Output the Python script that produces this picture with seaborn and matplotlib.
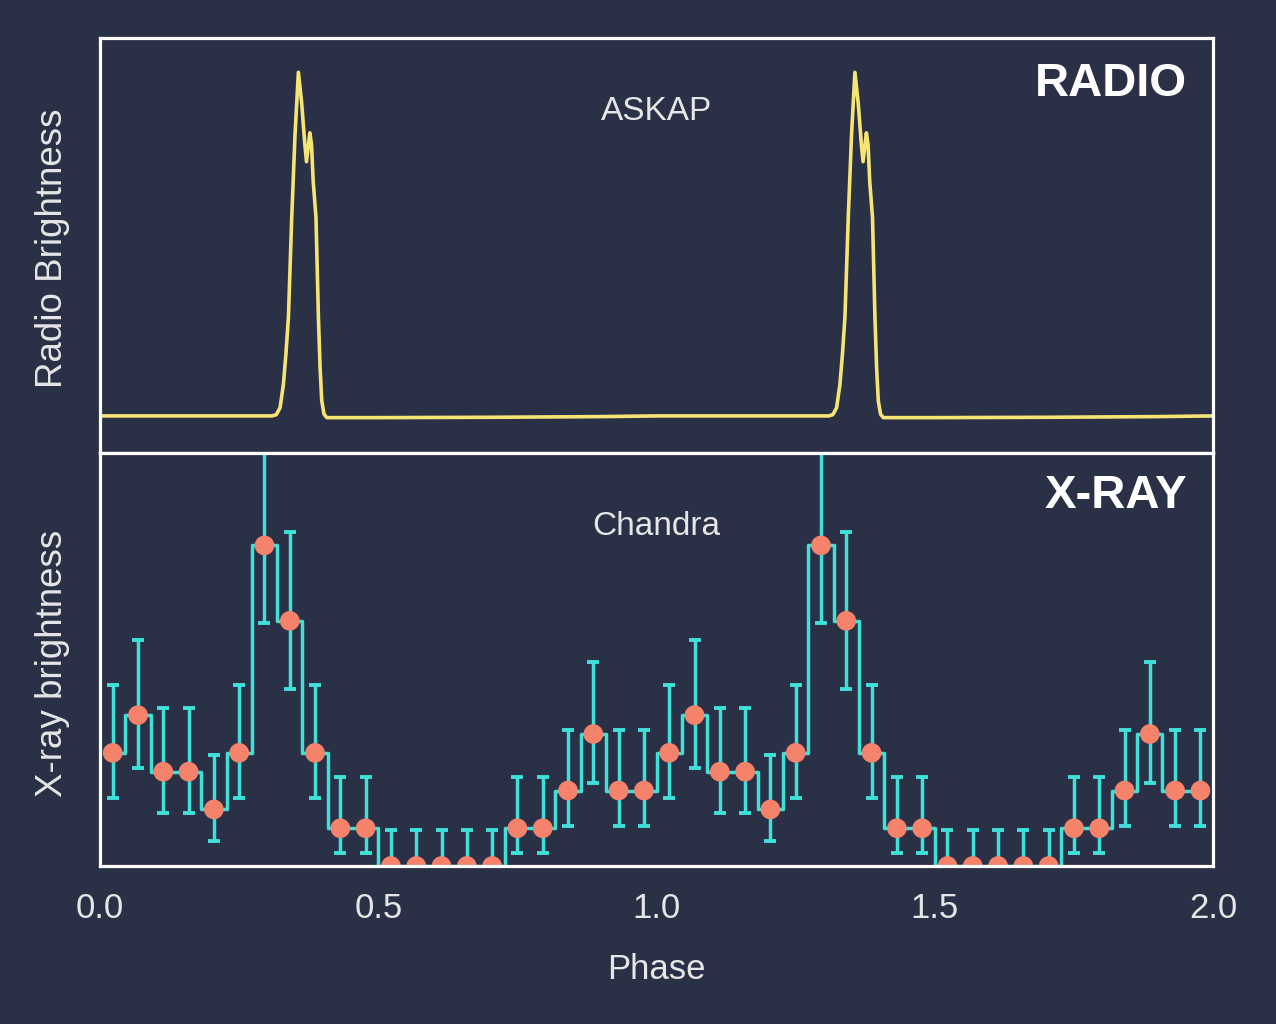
import numpy as np
import pandas as pd
import matplotlib.pyplot as plt
import seaborn as sns

# one pulse cycle of the ASKAP radio profile (phase, relative brightness)
radio_phase = [0.0, 0.10, 0.20, 0.30, 0.309, 0.316, 0.3176, 0.3235, 0.3295, 0.334,
               0.3385, 0.3445, 0.3504, 0.3564, 0.3624, 0.368, 0.371, 0.377, 0.380,
               0.383, 0.388, 0.3924, 0.3954, 0.3984, 0.4025, 0.4074, 0.50, 0.70, 0.90]
radio_flux = [0.0, 0.0, 0.0, 0.0, 0.0, 0.003, 0.006, 0.024, 0.092, 0.18,
              0.288, 0.58, 0.82, 1.0, 0.909, 0.79, 0.74, 0.824, 0.79,
              0.683, 0.578, 0.287, 0.14, 0.044, 0.005, -0.005, -0.005, -0.004, -0.002]

# Chandra counts in 22 phase bins, with lower / upper errors
xray_counts = [6, 8, 5, 5, 3, 6, 17, 13, 6, 2, 2, 0, 0, 0, 0, 0, 2, 2, 4, 7, 4, 4]
xray_err_lo = [2.4, 2.8, 2.2, 2.2, 1.7, 2.4, 4.1, 3.6, 2.4, 1.3, 1.3,
               0, 0, 0, 0, 0, 1.3, 1.3, 1.9, 2.6, 1.9, 1.9]
xray_err_hi = [3.6, 4.0, 3.4, 3.4, 2.9, 3.6, 5.2, 4.7, 3.6, 2.7, 2.7,
               1.9, 1.9, 1.9, 1.9, 1.9, 2.7, 2.7, 3.2, 3.8, 3.2, 3.2]

phase_ticks = [0.0, 0.5, 1.0, 1.5, 2.0]

BG = '#2a3046'
TXT = '#e6e6e6'
YEL = '#f6e574'
CYAN = '#3fe0d8'
SALMON = '#f5836b'

sns.set_style('dark')
plt.rcParams['font.family'] = ['Liberation Sans', 'DejaVu Sans']

# the profiles are shown over two cycles
radio = pd.DataFrame({'phase': np.concatenate([radio_phase, np.array(radio_phase) + 1, [2.0]]),
                      'flux': np.concatenate([radio_flux, radio_flux, [0.0]])})
nb = len(xray_counts)
centers = (np.arange(nb) + 0.5) / nb
xray = pd.DataFrame({'phase': np.concatenate([centers, centers + 1]),
                     'counts': xray_counts * 2,
                     'lo': xray_err_lo * 2,
                     'hi': xray_err_hi * 2})

fig = plt.figure(figsize=(12.76, 10.24), dpi=100, facecolor=BG)
ax1 = fig.add_axes([0.0784, 0.5576, 0.8723, 0.4053])
ax2 = fig.add_axes([0.0784, 0.1543, 0.8723, 0.4033])

for ax in (ax1, ax2):
    ax.set_facecolor(BG)
    ax.grid(False)
    ax.set_xlim(0, 2)
    ax.set_yticks([])
    for sp in ax.spines.values():
        sp.set_color('white')
        sp.set_linewidth(2.3)
        sp.set_zorder(5)

# radio panel
sns.lineplot(data=radio, x='phase', y='flux', ax=ax1, color=YEL, linewidth=2.6)
ax1.set_ylim(-0.108, 1.10)
ax1.set_xticks([0.5, 1.0, 1.5])
ax1.tick_params(axis='x', direction='in', length=10, width=2.2, color='white',
                labelbottom=False)
ax1.set_xlabel('')
ax1.set_ylabel('')
ax1.text(0.5, 0.822, 'ASKAP', transform=ax1.transAxes, ha='center', va='center',
         fontsize=24, color=TXT)
ax1.text(0.977, 0.888, 'RADIO', transform=ax1.transAxes, ha='right', va='center',
         fontsize=34, fontweight='bold', color='white')

# x-ray panel
sns.lineplot(data=xray, x='phase', y='counts', ax=ax2, color=CYAN, linewidth=2.5,
             drawstyle='steps-mid', zorder=2)
ax2.errorbar(xray['phase'], xray['counts'], yerr=[xray['lo'], xray['hi']], fmt='none',
             ecolor=CYAN, elinewidth=2.5, capsize=4.5, capthick=2.8, zorder=3)
sns.scatterplot(data=xray, x='phase', y='counts', ax=ax2, color=SALMON, s=200,
                edgecolor='none', zorder=4)
ax2.set_ylim(0, 21.9)
ax2.set_xticks(phase_ticks)
ax2.set_xticklabels([f'{t:.1f}' for t in phase_ticks])
ax2.tick_params(axis='x', direction='in', length=10, width=2.2, color='white',
                labelsize=25, labelcolor=TXT, pad=19)
ax2.set_xlabel('Phase', fontsize=25, color=TXT, labelpad=20)
ax2.set_ylabel('')
ax2.text(0.5, 0.822, 'Chandra', transform=ax2.transAxes, ha='center', va='center',
         fontsize=24, color=TXT)
ax2.text(0.977, 0.895, 'X-RAY', transform=ax2.transAxes, ha='right', va='center',
         fontsize=34, fontweight='bold', color='white')

# y labels placed in figure coordinates
fig.text(0.0415, 0.758, 'Radio Brightness', rotation=90, ha='center', va='center',
         fontsize=26.5, color=TXT)
fig.text(0.0415, 0.3525, 'X-ray brightness', rotation=90, ha='center', va='center',
         fontsize=26.5, color=TXT)

fig.savefig('out.png', dpi=100, facecolor=BG)
